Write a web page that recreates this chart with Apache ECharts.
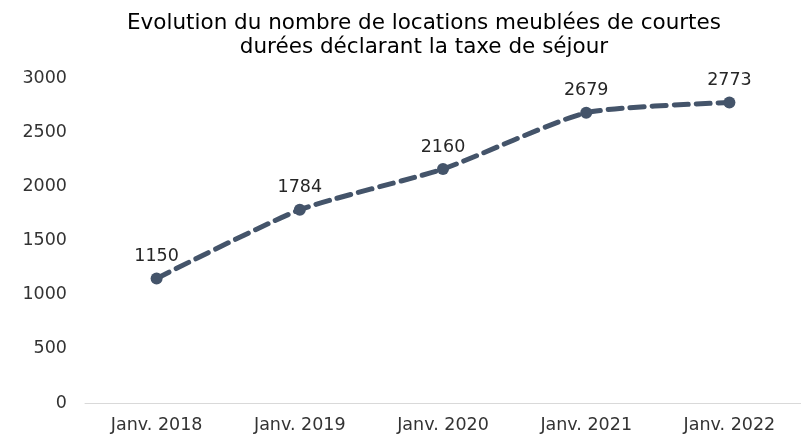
<!DOCTYPE html>
<html>
<head>
<meta charset="utf-8">
<script src="https://cdn.jsdelivr.net/npm/echarts@6/dist/echarts.min.js"></script>
<style>
    html, body { margin: 0; padding: 0; background: #fff; }
    #chart { width: 801px; height: 434px; }
</style>
</head>
<body>
<div id="chart"></div>
<script>
// catégories et valeurs
const categories = ['Janv. 2018', 'Janv. 2019', 'Janv. 2020', 'Janv. 2021', 'Janv. 2022'];
const locations = [1150, 1784, 2160, 2679, 2773];
const yTicks = [0, 500, 1000, 1500, 2000, 2500, 3000];

const lineColor = '#44546A';
const fontFamily = '"DejaVu Sans", Verdana, sans-serif';

const myChart = echarts.init(document.getElementById('chart'));
const option = {
    animation: false,
    textStyle: { fontFamily: fontFamily },
    title: {
        text: 'Evolution du nombre de locations meublées de courtes\ndurées déclarant la taxe de séjour',
        left: 419,
        textAlign: 'center',
        top: 6,
        textStyle: {
            fontFamily: fontFamily,
            fontSize: 21.5,
            fontWeight: 'normal',
            color: '#000',
            lineHeight: 24
        }
    },
    grid: {
        left: 85,
        top: 78,
        width: 722,
        height: 325
    },
    xAxis: {
        type: 'category',
        data: categories,
        boundaryGap: true,
        axisLine: { lineStyle: { color: '#d9d9d9', width: 1 } },
        axisTick: { show: false },
        axisLabel: { color: '#333', fontSize: 17.5, margin: 13 }
    },
    yAxis: {
        type: 'value',
        min: yTicks[0],
        max: yTicks[yTicks.length - 1],
        interval: 500,
        axisLine: { show: false },
        axisTick: { show: false },
        splitLine: { show: false },
        axisLabel: {
            color: '#333',
            fontSize: 17.5,
            margin: 18,
            formatter: (v) => String(v)
        }
    },
    series: [
        {
            type: 'line',
            data: locations,
            smooth: 0.2,
            symbol: 'circle',
            symbolSize: 12,
            itemStyle: { color: lineColor },
            lineStyle: { color: lineColor, width: 5, type: [14, 8], cap: 'round' },
            label: {
                show: true,
                position: 'top',
                distance: 7,
                color: '#262626',
                fontSize: 17.5
            }
        }
    ]
};
myChart.setOption(option);
</script>
</body>
</html>
